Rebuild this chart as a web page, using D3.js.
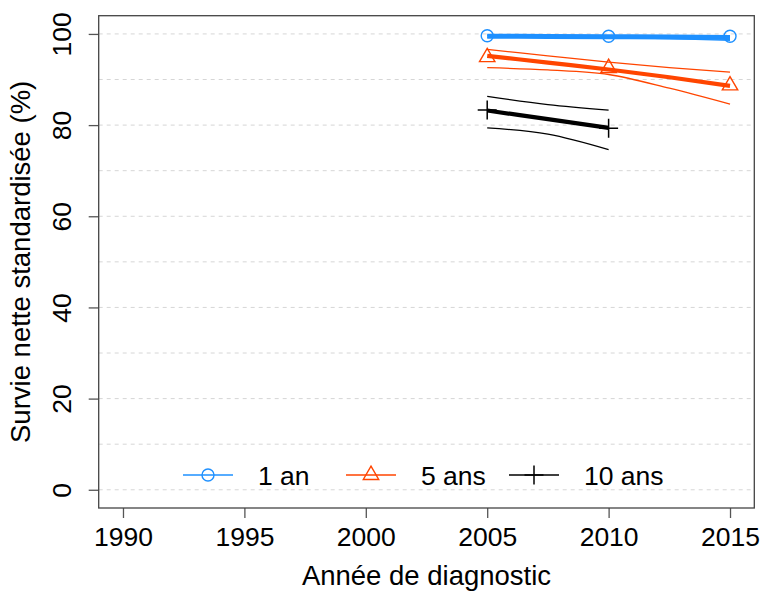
<!doctype html>
<html lang="fr">
<head>
<meta charset="UTF-8">
<title>Survie nette standardisée</title>
<script src="https://d3js.org/d3.v7.min.js"></script>
<style>
    body { margin: 0; background: #fff; }
    text { font-family: "Liberation Sans", Arial, Helvetica, sans-serif; fill: #000; }
</style>
</head>
<body>
<div id="chart-area"></div>

<script>
// years with observed points, and the finer grid of the fitted curves
const obsYears = [2005, 2010, 2015];
const fitYears = [2005, 2007.5, 2010, 2012.5, 2015];

// 1 an
const obs1 = [99.6, 99.5, 99.5];
const fit1 = [99.5, 99.45, 99.4, 99.3, 99.2];
const lo1  = [99.3, 99.25, 99.2, 99.0, 98.6];
const hi1  = [99.7, 99.7, 99.6, 99.6, 99.5];

// 5 ans
const obs5 = [94.9, 92.5, 88.7];
const fit5 = [95.2, 93.7, 92.2, 90.5, 88.6];
const lo5  = [92.6, 92.1, 91.1, 88.1, 84.6];
const hi5  = [96.6, 95.2, 93.8, 92.6, 91.6];

// 10 ans (only up to 2010)
const obs10 = [83.3, 79.3];
const fit10 = [83.2, 81.3, 79.4];
const lo10  = [79.4, 78.0, 74.6];
const hi10  = [86.3, 84.5, 83.3];

const xTicks = [1990, 1995, 2000, 2005, 2010, 2015];
const yTicks = [0, 20, 40, 60, 80, 100];
const yGrid = d3.range(0, 101, 10);

const labels = ['1 an', '5 ans', '10 ans'];
const colors = ['#1E90FF', '#FF4500', '#000000'];
const shapes = ['circle', 'triangle', 'cross'];

const W = 762, H = 591;
const plotL = 98.7, plotR = 754.3, plotT = 15.7, plotB = 508;
const tickFont = 26.5, titleFont = 27.5;

const x = d3.scaleLinear().domain([1989, 2016]).range([plotL, plotR]);
const y = d3.scaleLinear().domain([-4, 104]).range([plotB, plotT]);

const svg = d3.select('#chart-area')
    .append('svg')
    .attr('width', W)
    .attr('height', H);

// grid
svg.selectAll('line.grid')
    .data(yGrid)
    .enter()
    .append('line')
    .attr('x1', plotL).attr('x2', plotR)
    .attr('y1', d => y(d)).attr('y2', d => y(d))
    .attr('stroke', '#d6d6d6')
    .attr('stroke-width', 1)
    .attr('stroke-dasharray', '4,4');

const line = d3.line()
    .x(d => x(d[0]))
    .y(d => y(d[1]))
    .curve(d3.curveMonotoneX);

const series = [
    { obs: obs1, fit: fit1, lo: lo1, hi: hi1, lw: 5 },
    { obs: obs5, fit: fit5, lo: lo5, hi: hi5, lw: 4.2 },
    { obs: obs10, fit: fit10, lo: lo10, hi: hi10, lw: 4.2 }
];

function drawMarker(g, shape, cx, cy, color) {
    if (shape === 'circle') {
        g.append('circle')
            .attr('cx', cx).attr('cy', cy).attr('r', 6)
            .attr('fill', 'none').attr('stroke', color).attr('stroke-width', 1.4);
    } else if (shape === 'triangle') {
        const r = 8.9;
        const hw = r * Math.sqrt(3) / 2;
        g.append('path')
            .attr('d', `M${cx},${cy - r}L${cx + hw},${cy + r / 2}L${cx - hw},${cy + r / 2}Z`)
            .attr('fill', 'none').attr('stroke', color).attr('stroke-width', 1.4);
    } else {
        const s = 9.5;
        g.append('path')
            .attr('d', `M${cx - s},${cy}H${cx + s}M${cx},${cy - s}V${cy + s}`)
            .attr('fill', 'none').attr('stroke', color).attr('stroke-width', 1.5);
    }
}

const plot = svg.append('g');

series.forEach((s, i) => {
    const yrs = fitYears.slice(0, s.fit.length);
    [s.lo, s.hi].forEach(band => {
        plot.append('path')
            .attr('d', line(yrs.map((yr, j) => [yr, band[j]])))
            .attr('fill', 'none')
            .attr('stroke', colors[i])
            .attr('stroke-width', 1.3);
    });
    plot.append('path')
        .attr('d', line(yrs.map((yr, j) => [yr, s.fit[j]])))
        .attr('fill', 'none')
        .attr('stroke', colors[i])
        .attr('stroke-width', s.lw);
    s.obs.forEach((v, j) => drawMarker(plot, shapes[i], x(obsYears[j]), y(v), colors[i]));
});

// axes
const xAxis = svg.append('g')
    .attr('transform', `translate(0,${plotB})`)
    .call(d3.axisBottom(x).tickValues(xTicks).tickFormat(d3.format('d')).tickSize(10).tickPadding(9));
xAxis.select('.domain').remove();
xAxis.selectAll('line').attr('stroke', '#555').attr('stroke-width', 1.3);
xAxis.selectAll('text').attr('font-size', tickFont)
    .style('font-family', '"Liberation Sans", Arial, sans-serif');

const yAxis = svg.append('g')
    .attr('transform', `translate(${plotL},0)`)
    .call(d3.axisLeft(y).tickValues(yTicks).tickSize(10));
yAxis.select('.domain').remove();
yAxis.selectAll('line').attr('stroke', '#555').attr('stroke-width', 1.3);
yAxis.selectAll('text')
    .attr('x', 0).attr('dy', 0)
    .attr('text-anchor', 'middle')
    .attr('transform', 'translate(-28,0) rotate(-90)')
    .attr('font-size', tickFont)
    .style('font-family', '"Liberation Sans", Arial, sans-serif');

// box
svg.append('rect')
    .attr('x', plotL).attr('y', plotT)
    .attr('width', plotR - plotL).attr('height', plotB - plotT)
    .attr('fill', 'none')
    .attr('stroke', '#444')
    .attr('stroke-width', 1.3);

// titles
svg.append('text')
    .attr('x', (plotL + plotR) / 2).attr('y', 585)
    .attr('text-anchor', 'middle')
    .attr('font-size', titleFont)
    .text('Année de diagnostic');

svg.append('text')
    .attr('transform', `translate(30,${(plotT + plotB) / 2}) rotate(-90)`)
    .attr('text-anchor', 'middle')
    .attr('font-size', titleFont)
    .text('Survie nette standardisée (%)');

// legend
const legY = 475, legX = 183, legStep = 163, segW = 50;
const legend = svg.append('g');
labels.forEach((lab, i) => {
    const x0 = legX + i * legStep;
    legend.append('line')
        .attr('x1', x0).attr('x2', x0 + segW)
        .attr('y1', legY).attr('y2', legY)
        .attr('stroke', colors[i]).attr('stroke-width', 1.3);
    drawMarker(legend, shapes[i], x0 + segW / 2, legY, colors[i]);
    legend.append('text')
        .attr('x', x0 + 75).attr('y', legY + 9.5)
        .attr('font-size', tickFont)
        .text(lab);
});
</script>

</body>
</html>
